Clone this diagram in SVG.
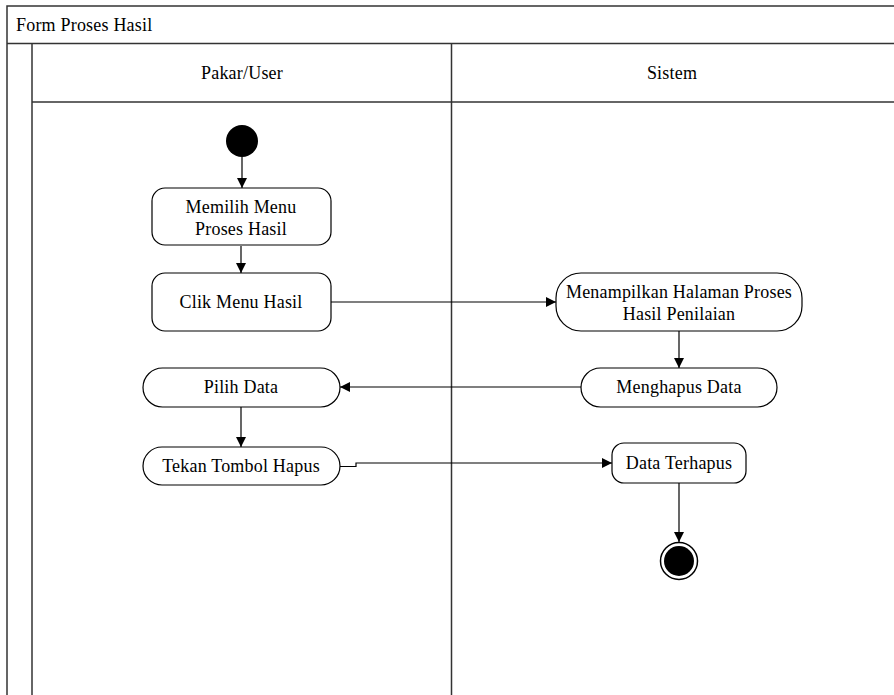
<svg xmlns="http://www.w3.org/2000/svg" width="894" height="695" viewBox="0 0 894 695">
<defs>
<marker id="arr" viewBox="0 0 10 10" refX="10" refY="5" markerWidth="10" markerHeight="10" markerUnits="userSpaceOnUse" orient="auto">
<path d="M0,0 L10,5 L0,10 z" fill="#000"/>
</marker>
</defs>
<style>
.frame{fill:none;stroke:#333;stroke-width:1.5}
.node{fill:#fff;stroke:#000;stroke-width:1.2}
.t{font-family:"Times New Roman","Liberation Serif","DejaVu Serif",serif;font-size:18px;letter-spacing:0.2px;fill:#000}
.c{text-anchor:middle}
.edge{fill:none;stroke:#000;stroke-width:1.2;marker-end:url(#arr)}
</style>
<rect width="894" height="695" fill="#fff"/>
<g id="frame">
<path class="frame" d="M7,695 V6 H894"/>
<path class="frame" d="M7,43.5 H894"/>
<path class="frame" d="M32,43.5 V695"/>
<path class="frame" d="M32,102 H894"/>
<path class="frame" d="M451.5,43.5 V695"/>
<text class="t" x="16" y="31">Form Proses Hasil</text>
<text class="t c" x="242" y="79">Pakar/User</text>
<text class="t c" x="672" y="79">Sistem</text>
</g>
<g id="connectors">
<path class="edge" d="M242,157 V188"/>
<path class="edge" d="M241,246 V273"/>
<path class="edge" d="M331,302 H556"/>
<path class="edge" d="M679,331 V368"/>
<path class="edge" d="M581,387 H340"/>
<path class="edge" d="M241,407 V447"/>
<path class="edge" d="M340,466.5 H356 V463 H612"/>
<path class="edge" d="M679,483 V542"/>
</g>
<g id="start"><circle cx="242" cy="141" r="16" fill="#000"/></g>
<g id="n1"><rect class="node" x="152" y="188" width="179" height="57" rx="13"/><text class="t c" x="241" y="213">Memilih Menu</text><text class="t c" x="241" y="235">Proses Hasil</text></g>
<g id="n2"><rect class="node" x="152" y="273" width="179" height="58" rx="13"/><text class="t c" x="241" y="308">Clik Menu Hasil</text></g>
<g id="n3"><rect class="node" x="556" y="273" width="246" height="58" rx="25"/><text class="t c" x="679" y="298">Menampilkan Halaman Proses</text><text class="t c" x="679" y="320">Hasil Penilaian</text></g>
<g id="n4"><rect class="node" x="581" y="368" width="196" height="39" rx="19.5"/><text class="t c" x="679" y="393">Menghapus Data</text></g>
<g id="n5"><rect class="node" x="143" y="368" width="197" height="39" rx="19.5"/><text class="t c" x="241" y="393">Pilih Data</text></g>
<g id="n6"><rect class="node" x="143" y="447" width="197" height="38" rx="19"/><text class="t c" x="241" y="472">Tekan Tombol Hapus</text></g>
<g id="n7"><rect class="node" x="612" y="443" width="134" height="40" rx="12"/><text class="t c" x="679" y="469">Data Terhapus</text></g>
<g id="end"><circle cx="679" cy="561" r="18.5" fill="#fff" stroke="#000" stroke-width="1.5"/><circle cx="679" cy="561" r="15" fill="#000"/></g>
</svg>
